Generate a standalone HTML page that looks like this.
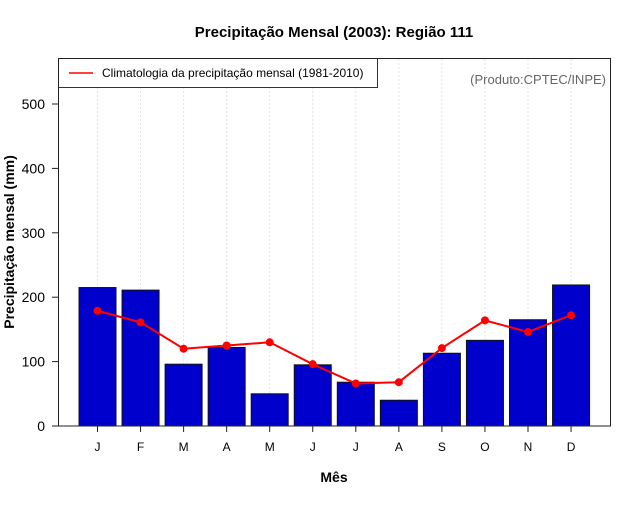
<!DOCTYPE html>
<html><head><meta charset="utf-8"><style>
body{margin:0;background:#fff}
svg text{font-family:"Liberation Sans",sans-serif}
</style></head><body>
<svg id="c" width="640" height="500" xmlns="http://www.w3.org/2000/svg">
<rect width="640" height="500" fill="#fff"/>
<g id="grid"></g>
<g id="bars"></g>
<g id="line"></g>
<g id="axes"></g>
<text x="334" y="37" text-anchor="middle" font-size="15" font-weight="bold">Precipitação Mensal (2003): Região 111</text>
<text x="334" y="482" text-anchor="middle" font-size="14" font-weight="bold">Mês</text>
<text transform="translate(14,242) rotate(-90)" text-anchor="middle" font-size="14" font-weight="bold">Precipitação mensal (mm)</text>
<g>
<rect x="58.5" y="58.5" width="319" height="29" fill="#fff" stroke="#333"/>
<line x1="69" y1="73" x2="93" y2="73" stroke="red" stroke-width="1.5"/>
<text x="102" y="77" font-size="12">Climatologia da precipitação mensal (1981-2010)</text>
</g>
<text x="606" y="84" text-anchor="end" font-size="13" fill="#666">(Produto:CPTEC/INPE)</text>
<rect x="58.5" y="58.5" width="552" height="367.5" fill="none" stroke="#222"/>
</svg>
<script>
const months=["J","F","M","A","M","J","J","A","S","O","N","D"];
const precip=[215,211,96,122,50,95,68,40,113,133,165,219];
const clim=[179,161,120,125,130,96,66,68,121,164,146,172];
const yTicks=[0,100,200,300,400,500];
const NS="http://www.w3.org/2000/svg";
function xC(i){return 97.5+i*43.05;}
function yS(v){return 426-v*322/500;}
function mk(t,a,p){const e=document.createElementNS(NS,t);for(const k in a)e.setAttribute(k,a[k]);p.appendChild(e);return e;}
const g=document.getElementById('grid'),b=document.getElementById('bars'),l=document.getElementById('line'),ax=document.getElementById('axes');
months.forEach((m,i)=>{
  const gl=mk('line',{x1:xC(i),x2:xC(i),y1:59,y2:426,stroke:'#e4e4e4','stroke-dasharray':'2,2'},g);
  
  
  const r=mk('rect',{x:xC(i)-18.5,y:yS(precip[i]),width:37,height:426-yS(precip[i]),fill:'#0000CD',stroke:'#111','stroke-width':1},b);
  
  
  const t=mk('line',{x1:xC(i),x2:xC(i),y1:426,y2:432,stroke:'#222'},ax);
  
  
  const tx=mk('text',{x:xC(i),y:451,'text-anchor':'middle','font-size':12},ax);
  tx.textContent=m;
  
  
});
const pl=mk('polyline',{points:clim.map((v,i)=>xC(i)+','+yS(v)).join(' '),fill:'none',stroke:'red','stroke-width':2},l);


clim.forEach((v,i)=>{
  const c=mk('circle',{cx:xC(i),cy:yS(v),r:4,fill:'red'},l);
  
  
});
yTicks.forEach(v=>{
  const t=mk('line',{x1:52,x2:58,y1:yS(v),y2:yS(v),stroke:'#222'},ax);
  
  
  const tx=mk('text',{x:45,y:yS(v)+5,'text-anchor':'end','font-size':14},ax);
  tx.textContent=v;
  
  
});
</script>
</body></html>
